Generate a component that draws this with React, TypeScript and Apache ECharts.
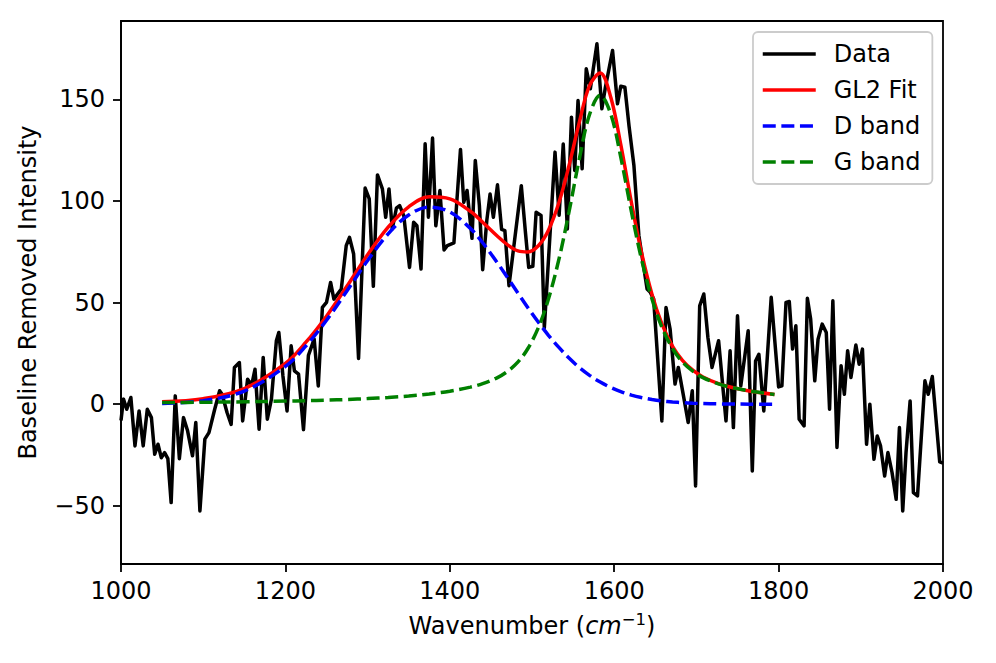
import React, { useEffect, useRef } from "react";
import * as echarts from "echarts";

const dataWavenumber = [
  1000, 1003, 1007, 1012, 1017, 1022, 1027, 1032, 1037, 1041, 1045, 1049, 1053, 1057, 1061, 1066, 1071, 1076, 1081, 1087,
  1091, 1096, 1102, 1107, 1114, 1120, 1123, 1129, 1134, 1138, 1144, 1148, 1154, 1159, 1163, 1168, 1173, 1178, 1183, 1189,
  1192, 1197, 1202, 1207, 1211, 1216, 1222, 1228, 1235, 1240, 1245, 1250, 1255, 1259, 1268, 1274, 1278, 1283, 1289, 1297,
  1302, 1307, 1312, 1318, 1322, 1326, 1330, 1335, 1339, 1344, 1351, 1356, 1360, 1365, 1370, 1374, 1379, 1383, 1388, 1393,
  1397, 1405, 1413, 1417, 1421, 1427, 1431, 1436, 1440, 1445, 1449, 1453, 1458, 1463, 1467, 1472, 1487, 1492, 1496, 1501,
  1505, 1511, 1515, 1528, 1533, 1538, 1543, 1548, 1552, 1556, 1561, 1566, 1571, 1579, 1585, 1589, 1598, 1604, 1608, 1613,
  1618, 1624, 1630, 1640, 1644, 1648, 1658, 1663, 1668, 1674, 1678, 1685, 1690, 1695, 1699, 1704, 1709, 1714, 1719, 1727,
  1736, 1741, 1745, 1750, 1754, 1763, 1768, 1772, 1776, 1782, 1791, 1800, 1804, 1809, 1813, 1817, 1821, 1825, 1831, 1835,
  1839, 1844, 1848, 1853, 1858, 1862, 1866, 1871, 1876, 1880, 1884, 1888, 1894, 1898, 1902, 1907, 1911, 1916, 1920, 1924,
  1929, 1933, 1938, 1943, 1947, 1951, 1955, 1960, 1964, 1969, 1978, 1982, 1987, 1996, 2000,
];
const dataIntensity = [
  -8, 2.5, -2.5, 3.3, -20.5, -3.3, -20.5, -2.5, -6.6, -24.6, -19.7, -26.3, -23.8, -26.8, -48.4, 4.1, -26.8, -6.6, -13.1, -25.4,
  -9, -52.5, -17.2, -14, -2.5, 6.6, 4.9, -4.1, -9.9, 18.1, 20.5, -8.2, 12.3, 9.4, 17.2, -12.3, 23, -7.4, 2.5, 31.2,
  35.3, 13.9, -3.3, 28.7, 16.4, 14.8, -12.5, 24, 32, 9, 47.6, 50.1, 59.9, 51.7, 56.7, 78, 82.1, 73.9, 22.5, 106.3,
  101, 58, 112.8, 105.9, 92, 105.9, 86.2, 96.4, 97.7, 92.8, 67.3, 89.5, 87.8, 66.5, 128.1, 92, 130.9, 87.8, 105.1, 75.9,
  78, 79.3, 125.3, 99.3, 105.1, 81.6, 119.9, 97.7, 66.2, 90.3, 103.4, 92, 107.9, 86, 85.4, 58.3, 107.5, 84.6, 67.3, 67.8,
  94.4, 92.8, 37.5, 124, 93, 128, 86.2, 141.2, 115, 149.4, 115.8, 165, 155.2, 177.3, 145.3, 155.2, 174, 147.8, 156.4, 155.9,
  137, 117.4, 83, 56.7, 55, 51.7, -8.2, 47.6, 37, 9.9, 18.1, 2.5, -9, 6.6, -40.2, 48.4, 54.2, 32.8, 18.1, 31.2,
  -8.2, 26.3, -11.5, 43.5, 9, 36.1, -32.8, 21.3, 24.6, -3.3, 52.6, 8.5, 9, 50.1, 50.5, 27.1, 38.6, -7.4, -10.7, 52.1,
  41.9, 11.5, 32, 39.4, 35.3, -2.5, 50.9, -21.3, 18.9, 4.9, 26.3, 13.1, 29.1, 19.7, 27.1, -19.7, 0, -27.1, -15.6, -20.5,
  -35.3, -23.8, -33.6, -46.8, -11.5, -52.5, -23.8, 1.6, -43.5, -45.1, 11.5, 4.9, 13.6, -28.4, -29,
];

const fitWavenumber = [
  1050, 1100, 1150, 1200, 1225, 1250, 1275, 1300, 1325, 1350, 1375, 1400, 1425, 1440, 1458, 1470, 1483, 1495, 1508, 1520,
  1533, 1545, 1558, 1570, 1583, 1596, 1608, 1621, 1633, 1646, 1658, 1671, 1683, 1696, 1708, 1726, 1741, 1766, 1795,
];
const fitGL2 = [
  1.2, 2.7, 7.7, 20.1, 30.5, 43.3, 58.1, 73.5, 87.1, 97.1, 102.0, 101.0, 94.9, 89.5, 82.6, 78.5, 75.4, 74.9, 78.1, 85.6,
  99.5, 117.3, 139.4, 156.7, 162.9, 150.7, 127.7, 99.1, 75.0, 54.0, 39.5, 28.5, 21.6, 16.6, 13.4, 10.3, 8.5, 6.4, 4.8,
];
const fitDBand = [
  0.36, 1.73, 6.47, 18.6, 28.7, 41.3, 55.8, 70.7, 83.8, 93.1, 97.0, 94.6, 86.5, 79.4, 69.5, 62.4, 54.6, 47.5, 40.2, 33.9,
  27.8, 22.7, 17.9, 14.2, 10.9, 8.2, 6.2, 4.5, 3.3, 2.3, 1.6, 1.1, 0.76, 0.5, 0.33, 0.18, 0.1, 0.04, 0.01,
];
const fitGBand = [
  0.8, 0.97, 1.2, 1.53, 1.75, 2.0, 2.34, 2.77, 3.3, 4.0, 5.0, 6.4, 8.4, 10.1, 13.1, 16.1, 20.8, 27.4, 37.9, 51.7,
  71.7, 94.6, 121.5, 142.5, 152, 142.5, 121.5, 94.6, 71.7, 51.7, 37.9, 27.4, 20.8, 16.1, 13.1, 10.1, 8.4, 6.4, 4.8,
];

const xTickValues = [1000, 1200, 1400, 1600, 1800, 2000];
const yTickValues = [-50, 0, 50, 100, 150];
const legendNames = ["Data", "GL2 Fit", "D band", "G band"];

const zip = (xs: number[], ys: number[]) => xs.map((x, i) => [x, ys[i]]);

export default function App() {
  const ref = useRef<HTMLDivElement>(null);

  useEffect(() => {
    if (!ref.current) return;
    const chart = echarts.init(ref.current, null, { renderer: "svg" });
    const font = "DejaVu Sans";
    const fs = 24;
    const dash = [13, 5.6];
    chart.setOption({
      animation: false,
      backgroundColor: "#ffffff",
      textStyle: { fontFamily: font },
      grid: {
        left: 121,
        right: 53,
        top: 21,
        bottom: 99,
        show: true,
        borderColor: "#000000",
        borderWidth: 1.8,
        backgroundColor: "transparent",
      },
      xAxis: {
        type: "value",
        min: xTickValues[0],
        max: xTickValues[xTickValues.length - 1],
        interval: 200,
        axisLine: { show: true, onZero: false, lineStyle: { color: "#000", width: 1.8 } },
        axisTick: { show: true, inside: false, length: 8, lineStyle: { color: "#000", width: 1.8 } },
        axisLabel: {
          color: "#000",
          fontSize: fs,
          fontFamily: font,
          margin: 15,
          showMinLabel: true,
          showMaxLabel: true,
          formatter: (v: number) => String(v),
        },
        splitLine: { show: false },
        name: "{a|Wavenumber (}{i|cm}{s|\u22121}{a|)}",
        nameLocation: "middle",
        nameGap: 47,
        nameTextStyle: {
          color: "#000",
          rich: {
            a: { fontSize: fs, fontFamily: font, color: "#000", lineHeight: 30 },
            i: { fontSize: fs, fontFamily: font, fontStyle: "italic", color: "#000", lineHeight: 30 },
            s: { fontSize: 16.5, fontFamily: font, color: "#000", lineHeight: 18, verticalAlign: "top" },
          },
        },
      },
      yAxis: {
        type: "value",
        min: -78.6,
        max: 188.5,
        axisLine: { show: true, onZero: false, lineStyle: { color: "#000", width: 1.8 } },
        axisTick: {
          show: true,
          inside: false,
          length: 8,
          customValues: yTickValues,
          lineStyle: { color: "#000", width: 1.8 },
        },
        axisLabel: {
          color: "#000",
          fontSize: fs,
          fontFamily: font,
          margin: 16,
          customValues: yTickValues,
          formatter: (v: number) => (v < 0 ? "\u2212" + Math.abs(v) : String(v)),
        },
        splitLine: { show: false },
        name: "Baseline Removed Intensity",
        nameLocation: "middle",
        nameGap: 81,
        nameTextStyle: { color: "#000", fontSize: fs, fontFamily: font },
      },
      legend: {
        data: legendNames,
        orient: "vertical",
        left: 753,
        top: 32,
        padding: [10, 12, 10, 8],
        itemWidth: 53,
        itemHeight: 20,
        itemGap: 12,
        backgroundColor: "rgba(255,255,255,0.8)",
        borderColor: "#cccccc",
        borderWidth: 1.8,
        borderRadius: 5,
        itemStyle: { color: "rgba(0,0,0,0)", borderColor: "rgba(0,0,0,0)", borderWidth: 0 },
        lineStyle: { width: 3.5 },
        textStyle: { fontSize: fs, fontFamily: font, color: "#000", lineHeight: 24, padding: [0, 0, 0, 13] },
      },
      series: [
        {
          name: legendNames[0],
          type: "line",
          data: zip(dataWavenumber, dataIntensity),
          symbol: "none",
          showSymbol: false,
          lineStyle: { color: "#000000", width: 3.5, join: "round" },
          itemStyle: { color: "#000000" },
          z: 2,
        },
        {
          name: legendNames[1],
          type: "line",
          data: zip(fitWavenumber, fitGL2),
          symbol: "none",
          showSymbol: false,
          smooth: 0.35,
          lineStyle: { color: "#ff0000", width: 3.5 },
          itemStyle: { color: "#ff0000" },
          z: 3,
        },
        {
          name: legendNames[2],
          type: "line",
          data: zip(fitWavenumber, fitDBand),
          symbol: "none",
          showSymbol: false,
          smooth: 0.35,
          lineStyle: { color: "#0000ff", width: 3.5, type: dash },
          itemStyle: { color: "#0000ff" },
          z: 4,
        },
        {
          name: legendNames[3],
          type: "line",
          data: zip(fitWavenumber, fitGBand),
          symbol: "none",
          showSymbol: false,
          smooth: 0.35,
          lineStyle: { color: "#008000", width: 3.5, type: dash },
          itemStyle: { color: "#008000" },
          z: 5,
        },
      ],
    });
    return () => chart.dispose();
  }, []);

  return (
    <div
      ref={ref}
      style={{ position: "fixed", left: 0, top: 0, width: 996, height: 663, background: "#fff" }}
    />
  );
}
